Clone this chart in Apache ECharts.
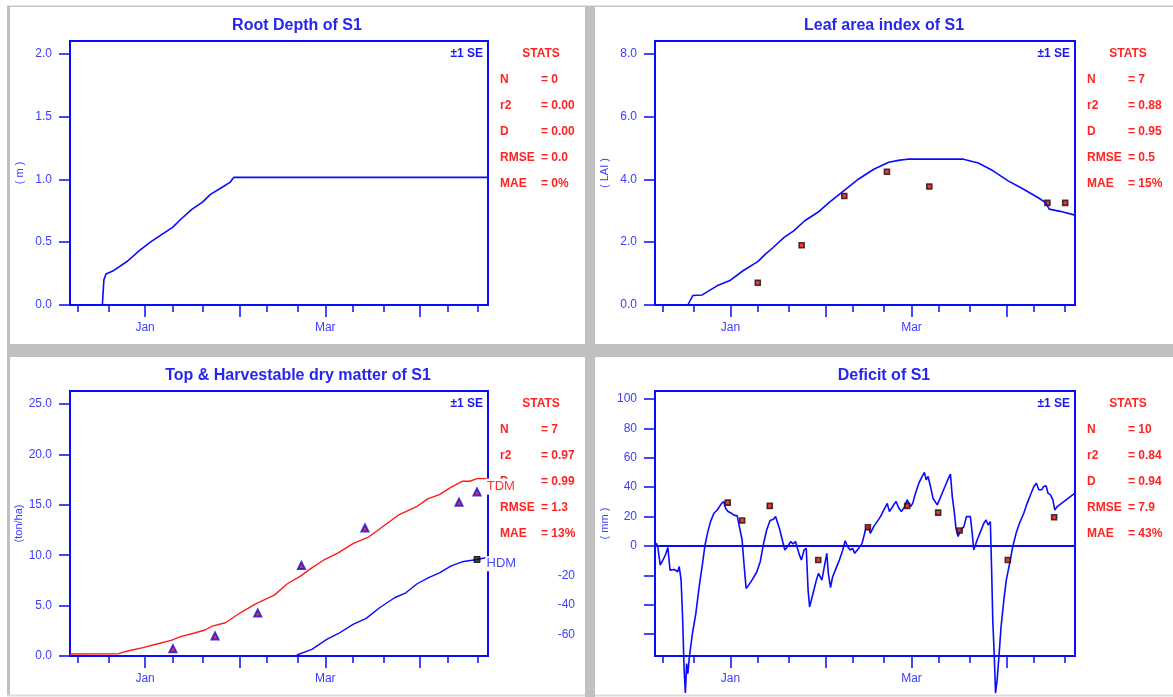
<!DOCTYPE html>
<html>
<head>
<meta charset="utf-8">
<script src="https://cdn.jsdelivr.net/npm/echarts@6/dist/echarts.min.js"></script>
<style>
  html, body { margin: 0; padding: 0; background: #ffffff; }
  #chart { width: 1173px; height: 697px; }
</style>
</head>
<body>
<div id="chart"></div>
<script>
// ---- time axis: days counted from 1 January ----
const X_MIN = -24.6;
const X_MAX = 112.3;
const monthTicks = [0, 31, 59, 90];                          // 1 Jan, 1 Feb, 1 Mar, 1 Apr
const dayTicks = [-22, -12, 9, 19, 40, 50, 68, 78, 99, 109]; // 10th and 20th of each month
const monthLabelDays = [0, 59];
const monthLabelNames = ['Jan', 'Mar'];

// ---- root depth (m) ----
const rootDays  = [-24.6, -14, -13.5, -12.8, -10.6, -5.7, -2, 1.7, 5.4, 9.1, 11.6, 15.3, 18.9, 21.4, 25.1, 27.8, 29, 112.3];
const rootDepth = [0, 0, 0.2, 0.246, 0.27, 0.35, 0.43, 0.5, 0.56, 0.62, 0.68, 0.76, 0.82, 0.88, 0.935, 0.975, 1.015, 1.015];
const rootTicks = [0, 0.5, 1, 1.5, 2];

// ---- leaf area index ----
const laiDays   = [-24.6, -13.9, -12.3, -9.2, -4.4, 0, 4.1, 9, 11.4, 13.9, 17.5, 20.6, 24.2, 28.5, 32.1, 37, 41.8, 46.7, 51.6, 55.2, 57.7, 75.9, 80.8, 85.6, 90.5, 95.4, 100.2, 102.7, 103.9, 107.5, 112.3];
const laiValues = [0, 0, 0.30, 0.32, 0.61, 0.79, 1.09, 1.39, 1.62, 1.83, 2.15, 2.36, 2.68, 2.95, 3.26, 3.64, 4.01, 4.32, 4.54, 4.61, 4.64, 4.64, 4.52, 4.27, 3.95, 3.69, 3.42, 3.26, 3.05, 2.98, 2.86];
const laiObsDays   = [8.9, 23.2, 37.1, 51, 64.8, 103.3, 109.1];
const laiObsValues = [0.71, 1.90, 3.47, 4.24, 3.77, 3.25, 3.25];
const laiTicks = [0, 2, 4, 6, 8];

// ---- top (TDM) and harvestable (HDM) dry matter, ton/ha ----
const tdmDays   = [-24.6, -8.7, -5.7, -0.7, 4.2, 8.5, 11.6, 16.5, 19.6, 22, 26.3, 31.2, 36.2, 42.3, 46.6, 50.9, 54.6, 58.3, 63.2, 68.1, 73.1, 78, 82.9, 89.1, 92.7, 96.4, 100.1, 103.8, 106.3, 108.7, 112.2];
const tdmValues = [0.2, 0.23, 0.5, 0.83, 1.22, 1.55, 1.92, 2.31, 2.58, 2.97, 3.30, 4.29, 5.18, 6.04, 7.17, 7.93, 8.75, 9.48, 10.24, 11.16, 11.79, 12.88, 13.97, 14.86, 15.62, 16.02, 16.74, 17.34, 17.34, 17.6, 17.6];
const hdmDays   = [49.7, 54.6, 59.5, 63.2, 68.1, 72.4, 76.8, 81.7, 85.4, 89.1, 92.7, 96.4, 100.1, 103.8, 108.7, 111.5];
const hdmValues = [0.1, 0.66, 1.65, 2.21, 3.14, 3.73, 4.79, 5.78, 6.27, 7.17, 7.76, 8.26, 8.92, 9.35, 9.58, 9.75];
const tdmObsDays   = [9.1, 22.9, 36.9, 51.2, 72, 102.8, 108.7];
const tdmObsValues = [0.73, 1.98, 4.26, 8.98, 12.71, 15.26, 16.28];
const hdmObsDays   = [108.7];
const hdmObsValues = [9.58];
const dmTicks = [0, 5, 10, 15, 20, 25];

// ---- soil water deficit (mm) ----
const defDays = [
  -24.2, -23.7, -22.9, -22, -21.2, -20.4, -19.7, -18.3, -17.2, -16.7, -16.1, -15.6, -15.1, -14.7, -14.3, -13.9, -13.4, -12.4, -11.3, -10.2,
  -9.1, -8.3, -7.5, -6.5, -5.4, -4.3, -2.9, -2.2, -1.6, -0.8, 0.3, 1.1, 2.2, 2.9, 3.8, 4.3, 5.1, 5.9, 7, 8.6,
  9.7, 10.8, 11.8, 12.9, 14, 14.7, 15.3, 16.1, 16.9, 17.7, 18.6, 19.6, 20.4, 21.2, 21.8, 22.3, 23.1, 24, 24.7, 25.3,
  25.8, 26.9, 28, 28.7, 29.8, 30.6, 31.4, 31.9, 32.6, 33.3, 34.4, 35.5, 36.6, 37.4, 38.2, 39, 39.8, 40.5, 41.8, 42.9,
  44, 44.9, 45.6, 46.7, 47.8, 48.9, 50, 51.1, 51.8, 52.5, 53.2, 54, 54.9, 55.7, 56.8, 57.6, 58.7, 59.4, 60.3, 61.4,
  62.5, 63.2, 63.8, 64.4, 65.2, 66, 66.6, 67.4, 68.1, 69, 70.6, 71.7, 72.3, 73, 73.5, 74.2, 75, 76.1, 76.9, 78.2,
  78.8, 79.3, 80.4, 81.5, 82.6, 83.3, 84, 84.7, 85.1, 85.5, 86, 86.4, 86.9, 87.5, 88.2, 89.1, 89.9, 91, 92, 93.1,
  94.2, 95.6, 96.7, 97.8, 98.9, 99.7, 100.5, 101.4, 102.1, 102.9, 103.5, 104.3, 105.1, 105.7, 106.5, 112.3
];
const defValues = [
  2, -0.5, -13, -9.5, -6, -1, -16.4, -16, -17.5, -14, -23, -49, -84.5, -100, -80, -86.8, -75.5, -59.5, -46, -27.7,
  -11.8, 0.7, 8.6, 16.6, 22.3, 24.5, 29, 30.2, 25.7, 23.4, 22.3, 21, 20.5, 13.2, 4.1, -9.5, -28.9, -26.6, -23.2, -17.5,
  -10.7, 1.8, 10.9, 17.3, 18.2, 20, 21.1, 10.9, 4.1, -2.7, -0.5, 3, 1.4, 3, 4.1, -5, -9.5, -2.7, -1.6, -30,
  -41.4, -32.3, -23.2, -18.6, -23.2, -14, -5, -18.6, -28.2, -20.9, -15.2, -9.5, -2.7, 3.6, -0.5, -2.7, -1.6, -5, -1.6, 1.8,
  10.9, 13.2, 8.6, 13.2, 16.6, 20, 24.5, 29, 23.4, 25.7, 28, 30.2, 25.7, 23.4, 26.8, 31.4, 26.8, 29, 35.9, 42.7,
  47.3, 50, 45, 47.3, 40.5, 32.5, 33.6, 28, 31.4, 35.9, 43.9, 48.9, 33.6, 22.3, 12, 6.4, 10.9, 13.2, 20, 20,
  8.6, -2.7, 4.1, 9.8, 15.5, 17.7, 14.3, 16.6, -14, -50.5, -75.5, -100, -91.4, -75.5, -55, -36.8, -23.2, -11.8, -0.5, 8.6,
  15.5, 22.3, 29, 34.8, 40.5, 42.7, 38.2, 38.2, 40.5, 40.9, 35.9, 34.8, 31.4, 24.5, 26.8, 35.9
];
const defObsDays   = [-0.9, 3.8, 12.8, 28.6, 44.8, 57.6, 67.7, 74.7, 90.4, 105.5];
const defObsValues = [29.5, 17.3, 27.3, -9.5, 12.7, 27.3, 22.7, 10.5, -9.5, 19.5];
const defTicks = [-60, -40, -20, 0, 20, 40, 60, 80, 100];
const defLabelsMain = [0, 20, 40, 60, 80, 100];
const defLabelsShifted = [-20, -40, -60];

// ---- panel titles, axis names and statistics ----
const panelTitles = ['Root Depth of S1', 'Leaf area index of S1', 'Top & Harvestable dry matter of S1', 'Deficit of S1'];
const axisNames = ['( m )', '( LAI )', '(ton/ha)', '( mm )'];
const statNames = ['N', 'r2', 'D', 'RMSE', 'MAE'];
const statsRoot    = ['= 0', '= 0.00', '= 0.00', '= 0.0', '= 0%'];
const statsLai     = ['= 7', '= 0.88', '= 0.95', '= 0.5', '= 15%'];
const statsDm      = ['= 7', '= 0.97', '= 0.99', '= 1.3', '= 13%'];
const statsDeficit = ['= 10', '= 0.84', '= 0.94', '= 7.9', '= 43%'];

// ---- styling ----
const FONT = '"Liberation Sans", Arial, Helvetica, sans-serif';
const BLUE = '#0a0aff';
const AXIS_TEXT = '#3c3cff';
const TITLE_BLUE = '#2626ee';
const RED = '#ff2323';
const GREY = '#c0c0c0';

const zip = (xs, ys) => xs.map((x, i) => [x, ys[i]]);

const gridBoxes = [
  { left: 70,  top: 41,  width: 418, height: 264 },
  { left: 655, top: 41,  width: 420, height: 264 },
  { left: 70,  top: 391, width: 418, height: 265 },
  { left: 655, top: 391, width: 420, height: 265 }
];

const grids = gridBoxes.map(b => Object.assign({
  show: true, borderColor: BLUE, borderWidth: 2, backgroundColor: 'transparent', containLabel: false
}, b));

// two x axes per panel: short ticks (10th, 20th) and long month ticks with labels
const xAxes = [];
gridBoxes.forEach((b, i) => {
  xAxes.push({
    gridIndex: i, type: 'value', position: 'bottom', min: X_MIN, max: X_MAX,
    axisLine: { show: true, onZero: false, lineStyle: { color: BLUE, width: 2 } },
    axisTick: { show: true, length: 7, customValues: dayTicks, lineStyle: { color: BLUE, width: 1.5 } },
    axisLabel: { show: false },
    splitLine: { show: false }
  });
  xAxes.push({
    gridIndex: i, type: 'value', position: 'bottom', min: X_MIN, max: X_MAX,
    axisLine: { show: false, onZero: false },
    axisTick: { show: true, length: 12, customValues: monthTicks, lineStyle: { color: BLUE, width: 1.5 } },
    axisLabel: {
      show: true, customValues: monthLabelDays, margin: 17,
      formatter: v => monthLabelNames[monthLabelDays.indexOf(v)] || '',
      color: AXIS_TEXT, fontSize: 12, fontFamily: FONT
    },
    splitLine: { show: false }
  });
});

function yAxisFor(gridIndex, min, max, ticks, labels, digits) {
  return {
    gridIndex, type: 'value', position: 'left', min, max,
    axisLine: { show: true, onZero: false, lineStyle: { color: BLUE, width: 2 } },
    axisTick: { show: true, length: 11, customValues: ticks, lineStyle: { color: BLUE, width: 1.5 } },
    axisLabel: {
      show: true, customValues: labels, margin: 18,
      formatter: v => v.toFixed(digits),
      color: AXIS_TEXT, fontSize: 12, fontFamily: FONT
    },
    splitLine: { show: false },
    name: axisNames[gridIndex], nameLocation: 'middle', nameGap: 45, nameRotate: 90,
    nameTextStyle: { color: AXIS_TEXT, fontSize: 11, fontFamily: FONT }
  };
}

const yAxes = [
  yAxisFor(0, 0, 2.1, rootTicks, rootTicks, 1),
  yAxisFor(1, 0, 8.4, laiTicks, laiTicks, 1),
  yAxisFor(2, 0, 26.3, dmTicks, dmTicks, 1),
  yAxisFor(3, -74.8, 105.4, defTicks, defLabelsMain, 0),
  {
    // negative deficit labels, printed further left
    gridIndex: 3, type: 'value', position: 'left', offset: 62, min: -74.8, max: 105.4,
    axisLine: { show: false }, axisTick: { show: false }, splitLine: { show: false },
    axisLabel: {
      show: true, customValues: defLabelsShifted, margin: 18,
      formatter: v => v.toFixed(0), color: AXIS_TEXT, fontSize: 12, fontFamily: FONT
    }
  }
];

const lineBase = { type: 'line', symbol: 'none', silent: true, animation: false };
const squareObs = {
  type: 'scatter', symbol: 'rect', symbolSize: 5, silent: true, animation: false,
  itemStyle: { color: '#ff0000', borderColor: '#111111', borderWidth: 1.6 }
};

const series = [
  Object.assign({}, lineBase, {
    xAxisIndex: 0, yAxisIndex: 0, data: zip(rootDays, rootDepth),
    lineStyle: { color: BLUE, width: 1.6 }
  }),
  Object.assign({}, lineBase, {
    xAxisIndex: 2, yAxisIndex: 1, data: zip(laiDays, laiValues),
    lineStyle: { color: BLUE, width: 1.6 }
  }),
  Object.assign({}, squareObs, { xAxisIndex: 2, yAxisIndex: 1, data: zip(laiObsDays, laiObsValues) }),
  Object.assign({}, lineBase, {
    xAxisIndex: 4, yAxisIndex: 2, data: zip(tdmDays, tdmValues), z: 4,
    lineStyle: { color: '#ff1a1a', width: 1.4 },
    endLabel: {
      show: true, formatter: 'TDM', color: '#ff3030', fontSize: 13, fontFamily: FONT,
      backgroundColor: '#ffffff', padding: [0, 2, 3, 1], distance: 0, offset: [-2, 8]
    }
  }),
  Object.assign({}, lineBase, {
    xAxisIndex: 4, yAxisIndex: 2, data: zip(hdmDays, hdmValues), z: 4,
    lineStyle: { color: BLUE, width: 1.4 },
    endLabel: {
      show: true, formatter: 'HDM', color: '#4a4aff', fontSize: 13, fontFamily: FONT,
      backgroundColor: '#ffffff', padding: [1, 2, 1, 1], distance: 0, offset: [0, 6]
    }
  }),
  {
    type: 'scatter', xAxisIndex: 4, yAxisIndex: 2, symbol: 'triangle', symbolSize: 7,
    silent: true, animation: false, z: 5,
    itemStyle: { color: '#ff0000', borderColor: '#1010dd', borderWidth: 2 },
    data: zip(tdmObsDays, tdmObsValues)
  },
  {
    type: 'scatter', xAxisIndex: 4, yAxisIndex: 2, symbol: 'rect', symbolSize: 6,
    silent: true, animation: false, z: 5,
    itemStyle: { color: '#111111', borderColor: '#000000', borderWidth: 1 },
    data: zip(hdmObsDays, hdmObsValues)
  },
  Object.assign({}, lineBase, {
    xAxisIndex: 6, yAxisIndex: 3, data: zip(defDays, defValues), clip: false,
    lineStyle: { color: BLUE, width: 1.6 },
    markLine: {
      silent: true, symbol: 'none', animation: false,
      label: { show: false },
      lineStyle: { color: BLUE, width: 2, type: 'solid' },
      data: [{ yAxis: 0 }]
    }
  }),
  Object.assign({}, squareObs, { xAxisIndex: 6, yAxisIndex: 3, data: zip(defObsDays, defObsValues), z: 5 })
];

// ---- frame, titles and statistics text ----
const graphics = [
  { type: 'rect', shape: { x: 7, y: 5.5, width: 1166, height: 1.5 }, style: { fill: '#c6c6c6' }, silent: true },
  { type: 'rect', shape: { x: 7, y: 6, width: 3, height: 690 }, style: { fill: GREY }, silent: true },
  { type: 'rect', shape: { x: 7, y: 694.5, width: 1166, height: 2 }, style: { fill: '#dcdcdc' }, silent: true },
  { type: 'rect', shape: { x: 585, y: 6, width: 10, height: 691 }, style: { fill: GREY }, silent: true },
  { type: 'rect', shape: { x: 7, y: 344, width: 1166, height: 13 }, style: { fill: GREY }, silent: true }
];

function textEl(text, x, y, color, font, align) {
  return {
    type: 'text', x, y, silent: true, z: 1,
    style: {
      text, fill: color, font,
      align, textAlign: align, verticalAlign: 'middle', textVerticalAlign: 'middle'
    }
  };
}

const titleCenters = [[297, 26], [884, 26], [298, 376], [884, 376]];
panelTitles.forEach((t, i) => {
  graphics.push(textEl(t, titleCenters[i][0], titleCenters[i][1], TITLE_BLUE, 'bold 16px ' + FONT, 'center'));
});

const panelStats = [statsRoot, statsLai, statsDm, statsDeficit];
gridBoxes.forEach((b, i) => {
  const right = b.left + b.width;
  const top = b.top;
  graphics.push(textEl('\u00b11 SE', right - 5, top + 13, '#1a1aee', 'bold 12px ' + FONT, 'right'));
  graphics.push(textEl('STATS', right + 53, top + 13, RED, 'bold 12px ' + FONT, 'center'));
  statNames.forEach((n, k) => {
    const y = top + 39 + 26 * k;
    graphics.push(textEl(n, right + 12, y, RED, 'bold 12px ' + FONT, 'left'));
    graphics.push(textEl(panelStats[i][k], right + 53, y, RED, 'bold 12px ' + FONT, 'left'));
  });
});

const chart = echarts.init(document.getElementById('chart'), null, { renderer: 'canvas' });
chart.setOption({
  animation: false,
  backgroundColor: '#ffffff',
  grid: grids,
  xAxis: xAxes,
  yAxis: yAxes,
  series,
  graphic: graphics
});
</script>
</body>
</html>
